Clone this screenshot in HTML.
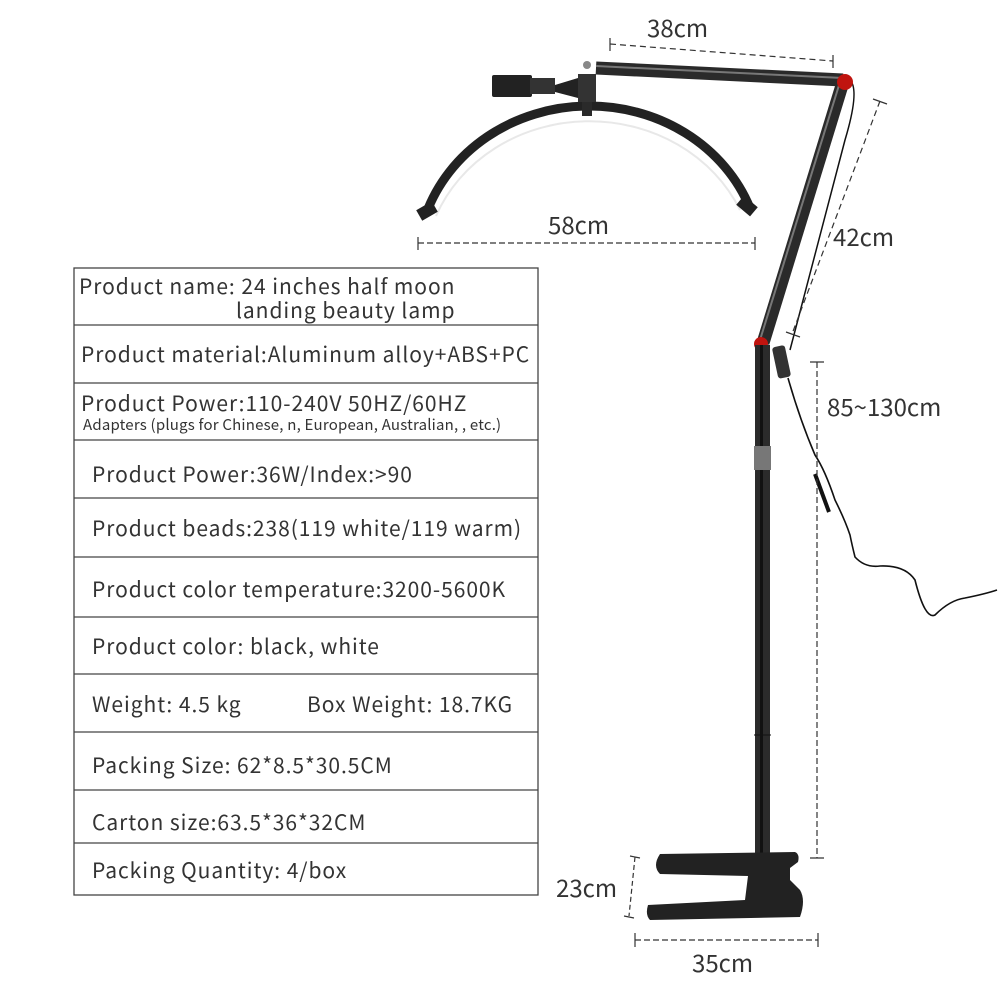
<!DOCTYPE html>
<html><head><meta charset="utf-8"><style>
body{margin:0;background:#fff;width:1000px;height:1000px;overflow:hidden;position:relative;font-family:"Noto Sans CJK SC","Liberation Sans",sans-serif;color:#333}
.t{position:absolute;white-space:nowrap;font-size:21px;line-height:24px;letter-spacing:0.95px}
.d{font-size:24px!important;line-height:28px!important;letter-spacing:0!important}
svg{position:absolute;left:0;top:0}
</style></head><body>
<svg width="1000" height="1000" viewBox="0 0 1000 1000">
<g stroke="#444" stroke-width="1.3" fill="none">
<rect x="74" y="268" width="464" height="627"/>
<path d="M74 325H538M74 383H538M74 440H538M74 498H538M74 557H538M74 617H538M74 674H538M74 732H538M74 790H538M74 843H538"/>
</g>
<path d="M426 214 A172 158 0 0 1 750 208" stroke="#222" stroke-width="9" fill="none"/>
<path d="M436 216 A165 150 0 0 1 740 210" stroke="#e8e8e8" stroke-width="2" fill="none"/>
<rect x="418" y="205" width="18" height="12" fill="#222" transform="rotate(-30 427 211)"/>
<rect x="738" y="200" width="18" height="12" fill="#222" transform="rotate(40 747 206)"/>
<rect x="582" y="78" width="10" height="38" fill="#2a2a2a"/>
<rect x="578" y="74" width="18" height="28" fill="#333"/>
<path d="M555 85 L578 78 L578 98 L555 92Z" fill="#222"/>
<rect x="492" y="75" width="40" height="22" rx="2" fill="#222"/>
<rect x="530" y="78" width="25" height="16" fill="#333"/>
<circle cx="587" cy="65" r="4" fill="#888"/>
<path d="M596 68 L843 80" stroke="#2a2a2a" stroke-width="13"/>
<path d="M596 66 L843 78" stroke="#777" stroke-width="2"/>
<path d="M843 82 L763 343" stroke="#2a2a2a" stroke-width="13"/>
<path d="M840 82 L760 340" stroke="#777" stroke-width="2"/>
<path d="M850 80 Q860 90 845 140 L790 350" stroke="#111" stroke-width="1.5" fill="none"/>
<circle cx="845" cy="82" r="8" fill="#c0140f"/>
<circle cx="761" cy="344" r="7" fill="#c0140f"/>
<rect x="755" y="345" width="15" height="535" fill="#2b2b2b"/>
<rect x="760" y="345" width="3" height="535" fill="#111"/>
<rect x="754" y="446" width="17" height="24" fill="#777"/>
<path d="M754 735H771" stroke="#111"/>
<path d="M660 854 L795 852 Q800 854 798 862 L790 868 L790 880 L800 890 Q806 900 800 917 L650 920 Q645 915 648 905 L745 900 L748 876 L660 874 Q652 866 660 854Z" fill="#222"/>
<rect x="775" y="346" width="13" height="32" rx="3" fill="#333" transform="rotate(-12 781 362)"/>
<path d="M788 378 Q800 420 815 455 Q825 470 835 500 Q845 520 850 535 Q852 545 855 557 Q865 568 880 566 Q905 565 915 580 Q925 620 935 615 Q950 600 965 598 Q985 594 997 590" stroke="#111" stroke-width="1.6" fill="none"/>
<path d="M815 474 L829 512" stroke="#111" stroke-width="4"/>
<g stroke="#333" stroke-width="1.2" fill="none">
<path d="M610 44 L833 61" stroke-dasharray="6 4"/><path d="M610 38V51M833 55V68"/>
<path d="M418 243 H755" stroke-dasharray="6 3"/><path d="M418 237V250M755 237V250"/>
<path d="M880 101 L792 334" stroke-dasharray="6 4"/><path d="M873 99L887 104M786 332L800 337"/>
<path d="M817 362 V858" stroke-dasharray="6 3"/><path d="M810 362H824M810 858H824"/>
<path d="M635 857 L629 916" stroke-dasharray="5 3"/><path d="M630 856L640 858M624 916L634 918"/>
<path d="M635 940 H818" stroke-dasharray="6 3"/><path d="M635 933V947M818 933V947"/>
</g>
</svg>
<div class="t" style="left:79px;top:274px">Product name: 24 inches half moon</div>
<div class="t" style="left:236px;top:298px">landing beauty lamp</div>
<div class="t" style="left:81px;top:342px">Product material:Aluminum alloy+ABS+PC</div>
<div class="t" style="left:81px;top:391px">Product Power:110-240V 50HZ/60HZ</div>
<div class="t" style="left:83px;top:416px;font-size:15px;line-height:18px;letter-spacing:0.2px">Adapters (plugs for Chinese, n, European, Australian, , etc.)</div>
<div class="t" style="left:92px;top:462px">Product Power:36W/Index:&gt;90</div>
<div class="t" style="left:92px;top:516px">Product beads:238(119 white/119 warm)</div>
<div class="t" style="left:92px;top:577px">Product color temperature:3200-5600K</div>
<div class="t" style="left:92px;top:634px">Product color: black, white</div>
<div class="t" style="left:92px;top:692px">Weight: 4.5 kg</div>
<div class="t" style="left:307px;top:692px">Box Weight: 18.7KG</div>
<div class="t" style="left:92px;top:753px">Packing Size: 62*8.5*30.5CM</div>
<div class="t" style="left:92px;top:810px">Carton size:63.5*36*32CM</div>
<div class="t" style="left:92px;top:858px">Packing Quantity: 4/box</div>
<div class="t d" style="left:647px;top:13px">38cm</div>
<div class="t d" style="left:548px;top:210px">58cm</div>
<div class="t d" style="left:833px;top:222px">42cm</div>
<div class="t d" style="left:827px;top:392px">85~130cm</div>
<div class="t d" style="left:556px;top:873px">23cm</div>
<div class="t d" style="left:692px;top:948px">35cm</div>
</body></html>
